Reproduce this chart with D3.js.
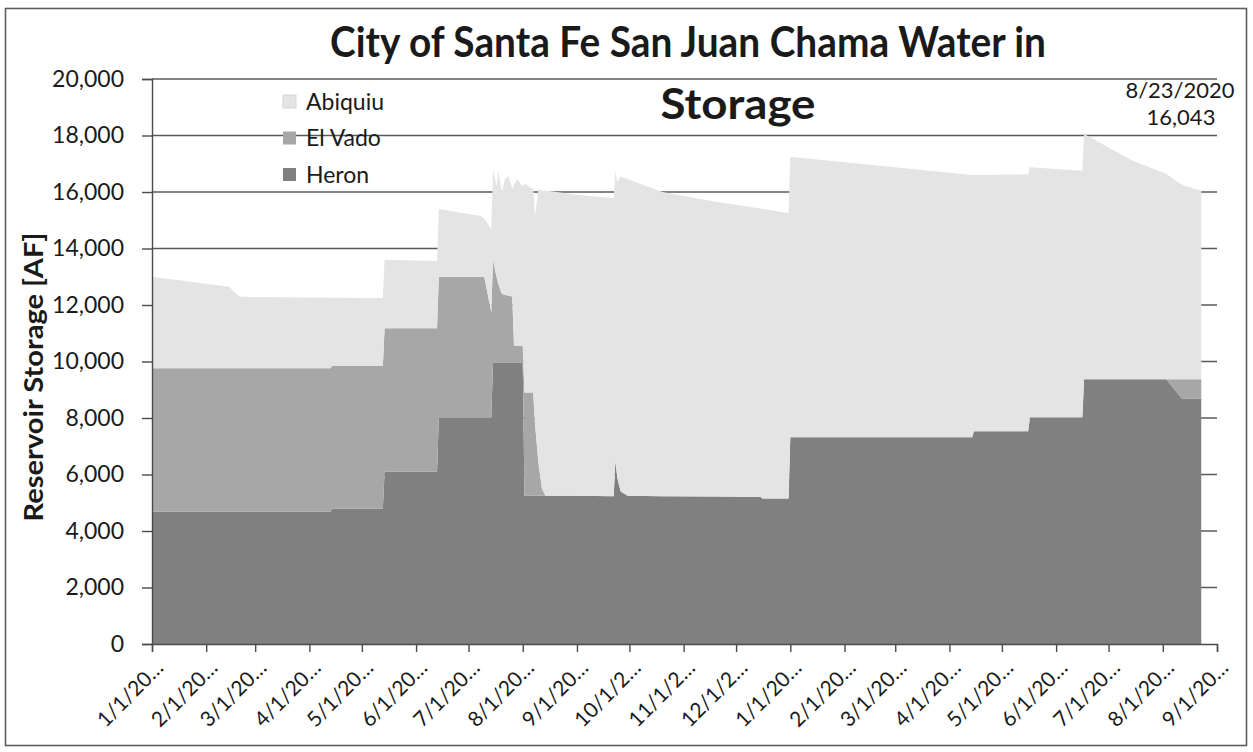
<!DOCTYPE html>
<html>
<head>
<meta charset="utf-8">
<script src="https://cdn.jsdelivr.net/npm/d3@7"></script>
<style>
  html, body { margin: 0; padding: 0; background: #fff; }
  svg { display: block; }
  text { font-family: Lato, "Open Sans", sans-serif; fill: #1a1a1a; }
</style>
</head>
<body>
<svg id="chart" width="1253" height="752"></svg>
<script>
// Storage readings (acre-feet) at each change point
const dates = ["2019-01-01","2019-02-14","2019-02-20","2019-04-13","2019-04-14","2019-05-13","2019-05-14","2019-06-13","2019-06-14","2019-07-08","2019-07-10","2019-07-14","2019-07-15","2019-07-17","2019-07-18","2019-07-20","2019-07-22","2019-07-24","2019-07-26","2019-07-27","2019-07-29","2019-08-01","2019-08-02","2019-08-07","2019-08-08","2019-08-10","2019-08-12","2019-08-14","2019-09-01","2019-09-22","2019-09-23","2019-09-24","2019-09-26","2019-09-30","2019-10-20","2019-11-20","2019-12-15","2019-12-16","2019-12-31","2020-01-01","2020-04-14","2020-04-15","2020-05-16","2020-05-17","2020-06-16","2020-06-17","2020-07-15","2020-08-03","2020-08-12","2020-08-23"];

const heron = [4680,4680,4680,4680,4800,4800,6100,6100,8000,8000,8000,8000,9960,9960,9960,9960,9960,9960,9960,9960,9960,9960,5250,5250,5250,5250,5250,5250,5250,5230,6500,5900,5400,5250,5230,5220,5200,5150,5150,7320,7320,7530,7530,8020,8020,9370,9370,9370,8680,8680];

const elVado = [5080,5080,5080,5080,5040,5040,5075,5075,5000,5000,5000,3750,3640,3040,2790,2440,2390,2370,2340,590,590,590,3650,3650,2550,1150,250,0,0,0,0,0,0,0,0,0,0,0,0,0,0,0,0,0,0,0,0,0,690,690];

const abiquiu = [3240,2890,2530,2500,2420,2410,2425,2385,2400,2150,2050,2950,3200,3200,4000,3600,4150,4220,3800,5700,5900,5650,7400,7200,7350,9700,10550,10800,10650,10550,10250,10450,11150,11200,10770,10430,10220,10260,10100,9930,9280,9070,9090,8860,8730,8680,7730,7280,6880,6673];

const seriesNames = ["Heron", "El Vado", "Abiquiu"];
const seriesColors = ["#808080", "#a7a7a7", "#e4e4e4"];

const yTicks = [0, 2000, 4000, 6000, 8000, 10000, 12000, 14000, 16000, 18000, 20000];
const xTickDates = ["2019-01-01","2019-02-01","2019-03-01","2019-04-01","2019-05-01","2019-06-01","2019-07-01","2019-08-01","2019-09-01","2019-10-01","2019-11-01","2019-12-01","2020-01-01","2020-02-01","2020-03-01","2020-04-01","2020-05-01","2020-06-01","2020-07-01","2020-08-01","2020-09-01"];
const xTickLabels = ["1/1/20\u2026","2/1/20\u2026","3/1/20\u2026","4/1/20\u2026","5/1/20\u2026","6/1/20\u2026","7/1/20\u2026","8/1/20\u2026","9/1/20\u2026","10/1/2\u2026","11/1/2\u2026","12/1/2\u2026","1/1/20\u2026","2/1/20\u2026","3/1/20\u2026","4/1/20\u2026","5/1/20\u2026","6/1/20\u2026","7/1/20\u2026","8/1/20\u2026","9/1/20\u2026"];

const titleLines = ["City of Santa Fe San Juan Chama Water in", "Storage"];
const yTitle = "Reservoir Storage [AF]";

const parse = d3.utcParse("%Y-%m-%d");
const rows = dates.map((d, i) => ({
  date: parse(d),
  "Heron": heron[i],
  "El Vado": elVado[i],
  "Abiquiu": abiquiu[i]
}));

const svg = d3.select("#chart");
const plot = { left: 152, right: 1217, top: 79, bottom: 644 };

const x = d3.scaleUtc()
  .domain([parse(xTickDates[0]), parse(xTickDates[xTickDates.length - 1])])
  .range([plot.left, plot.right]);
const y = d3.scaleLinear().domain([0, 20000]).range([plot.bottom, plot.top]);

// outer frame
svg.append("rect")
  .attr("x", 5.5).attr("y", 8.5).attr("width", 1241).attr("height", 737)
  .attr("fill", "#fff").attr("stroke", "#5e5e5e").attr("stroke-width", 1.6);

// horizontal gridlines (behind the areas)
svg.append("g").selectAll("line").data(yTicks.filter(v => v > 0)).join("line")
  .attr("x1", plot.left).attr("x2", plot.right)
  .attr("y1", d => y(d)).attr("y2", d => y(d))
  .attr("stroke", "#5a5a5a").attr("stroke-width", 1.4);

// stacked areas
const stack = d3.stack().keys(seriesNames);
const layers = stack(rows);
const area = d3.area()
  .x(d => x(d.data.date))
  .y0(d => y(d[0]))
  .y1(d => y(d[1]));

svg.append("g").selectAll("path").data(layers).join("path")
  .attr("d", area)
  .attr("fill", (d, i) => seriesColors[i]);

// y axis
const yAxis = d3.axisLeft(y).tickValues(yTicks).tickSize(10).tickPadding(18)
  .tickFormat(d3.format(","));
const gy = svg.append("g").attr("transform", `translate(${plot.left},0)`).call(yAxis);
gy.select(".domain").attr("stroke", "#4a4a4a").attr("stroke-width", 1.4);
gy.selectAll(".tick line").attr("stroke", "#4a4a4a").attr("stroke-width", 1.4);
gy.selectAll(".tick text").attr("font-size", 23).attr("font-family", "Lato").attr("fill", "#1a1a1a");

// x axis
const xAxis = d3.axisBottom(x)
  .tickValues(xTickDates.map(parse))
  .tickSize(8)
  .tickFormat((d, i) => xTickLabels[i]);
const gx = svg.append("g").attr("transform", `translate(0,${plot.bottom})`).call(xAxis);
gx.select(".domain").attr("stroke", "#4a4a4a").attr("stroke-width", 1.4);
gx.selectAll(".tick line").attr("stroke", "#4a4a4a").attr("stroke-width", 1.4);
gx.selectAll(".tick text")
  .attr("font-size", 21).attr("font-family", "Lato").attr("fill", "#1a1a1a")
  .attr("text-anchor", "end")
  .attr("x", 0).attr("y", 0).attr("dy", "0.35em")
  .attr("transform", "translate(7,20) rotate(-45)");

// y axis title
svg.append("text")
  .attr("transform", "translate(43,377) rotate(-90)")
  .attr("text-anchor", "middle")
  .attr("font-size", 26).attr("font-weight", 700)
  .attr("textLength", 289).attr("lengthAdjust", "spacingAndGlyphs")
  .text(yTitle);

// chart title
svg.append("text").attr("x", 688).attr("y", 57).attr("text-anchor", "middle")
  .attr("font-size", 42).attr("font-weight", 700)
  .attr("textLength", 716).attr("lengthAdjust", "spacingAndGlyphs")
  .text(titleLines[0]);
svg.append("text").attr("x", 738).attr("y", 119).attr("text-anchor", "middle")
  .attr("font-size", 42).attr("font-weight", 700)
  .attr("textLength", 155).attr("lengthAdjust", "spacingAndGlyphs")
  .text(titleLines[1]);

// legend (top series first)
const legendItems = seriesNames.map((n, i) => ({ name: n, color: seriesColors[i] })).reverse();
const lg = svg.append("g").selectAll("g").data(legendItems).join("g")
  .attr("transform", (d, i) => `translate(283,${95 + i * 36.5})`);
lg.append("rect").attr("width", 13).attr("height", 13)
  .attr("fill", d => d.color)
  .attr("stroke", d => d.name === "Abiquiu" ? "#d6d6d6" : "none");
lg.append("text").attr("x", 23).attr("y", 6.5).attr("dy", "0.35em")
  .attr("font-size", 23).text(d => d.name);

// latest reading annotation
const lastIdx = dates.length - 1;
const lastTotal = heron[lastIdx] + elVado[lastIdx] + abiquiu[lastIdx];
const lastDate = parse(dates[lastIdx]);
const fmtDate = d => `${d.getUTCMonth() + 1}/${d.getUTCDate()}/${d.getUTCFullYear()}`;
svg.append("text").attr("x", 1180).attr("y", 98).attr("text-anchor", "middle")
  .attr("font-size", 22).text(fmtDate(lastDate));
svg.append("text").attr("x", 1181).attr("y", 125).attr("text-anchor", "middle")
  .attr("font-size", 22).text(d3.format(",")(lastTotal));
</script>
</body>
</html>
